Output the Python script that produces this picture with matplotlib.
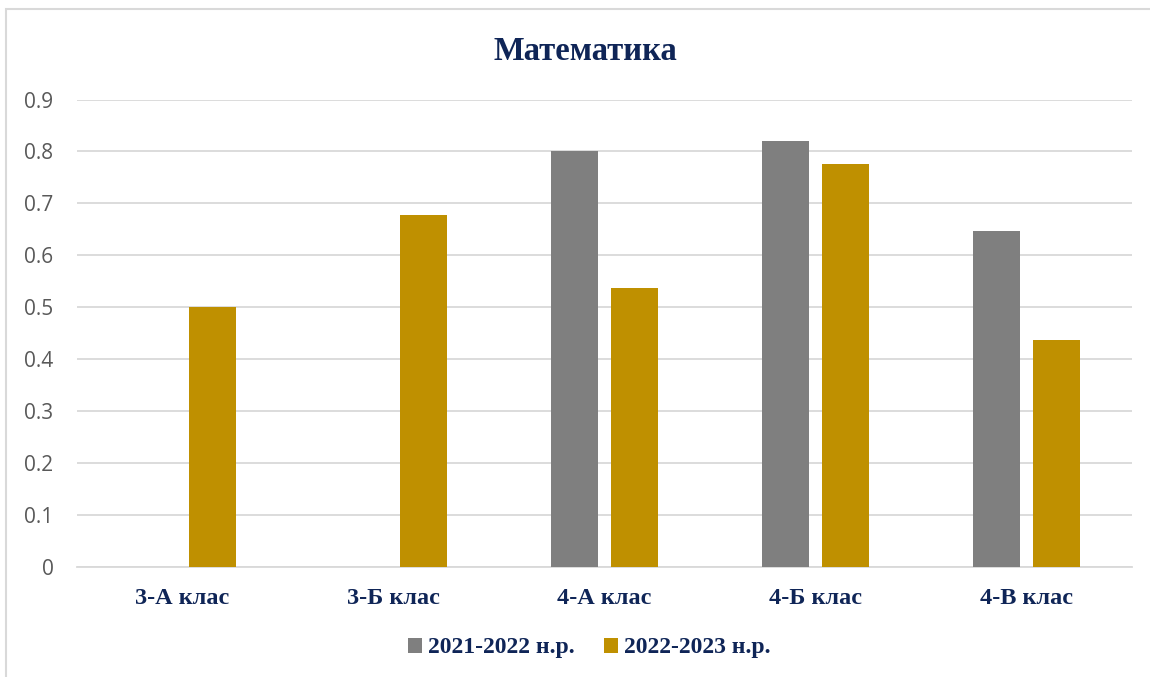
import numpy as np
import matplotlib
matplotlib.use("Agg")
import matplotlib.pyplot as plt
from matplotlib.patches import Rectangle

categories = ["3-А клас", "3-Б клас", "4-А клас", "4-Б клас", "4-В клас"]
series_names = ["2021-2022 н.р.", "2022-2023 н.р."]
values_2021 = [np.nan, np.nan, 0.80, 0.82, 0.647]
values_2022 = [0.50, 0.678, 0.538, 0.775, 0.437]
yticks = [0, 0.1, 0.2, 0.3, 0.4, 0.5, 0.6, 0.7, 0.8, 0.9]
ytick_labels = ["0", "0.1", "0.2", "0.3", "0.4", "0.5", "0.6", "0.7", "0.8", "0.9"]

navy = "#0F2557"
grid_c = "#D9D9D9"
c1 = "#7F7F7F"
c2 = "#BF9000"
serif = ["Liberation Serif", "DejaVu Serif"]

fig = plt.figure(figsize=(11.5, 6.77), dpi=100)
fig.patch.set_facecolor("white")
# outer chart frame (partly cropped)
fig.patches.append(Rectangle((6 / 1150, -0.05), 1.2, 1 - 9 / 677 + 0.05,
                             transform=fig.transFigure, fill=False,
                             edgecolor=grid_c, linewidth=1.5))

ax = fig.add_axes([77 / 1150, 1 - 567 / 677, (1132 - 77) / 1150, (567 - 99.5) / 677])
x = np.arange(len(categories))
w = 0.227
off = 0.142
ax.bar(x - off, values_2021, w, color=c1, label=series_names[0], zorder=3)
ax.bar(x + off, values_2022, w, color=c2, label=series_names[1], zorder=3)

ax.set_xlim(-0.5, len(categories) - 0.5)
ax.set_ylim(0, 0.9)
ax.set_yticks(yticks)
ax.set_yticklabels(ytick_labels, fontsize=15, color="#595959", family="Open Sans")
ax.yaxis.grid(True, color=grid_c, linewidth=1.3, zorder=0)
ax.set_axisbelow(True)
for s in ["top", "right", "left"]:
    ax.spines[s].set_visible(False)
ax.spines["bottom"].set_color(grid_c)
ax.spines["bottom"].set_linewidth(1.3)
ax.tick_params(axis="y", length=0, pad=17)
ax.tick_params(axis="x", length=0, pad=15)
ax.set_xticks(x)
ax.set_xticklabels(categories, fontsize=17.5, fontweight="bold", color=navy, family=serif)

fig.text(585 / 1150, 1 - 51 / 677, "Математика", ha="center", va="center",
         fontsize=23.5, fontweight="bold", color=navy, family=serif)

leg = ax.legend(loc="center", bbox_to_anchor=(589 / 1150, 1 - 648 / 677),
                bbox_transform=fig.transFigure, ncol=2, frameon=False,
                prop={"family": serif, "weight": "bold", "size": 17},
                handlelength=0.6, handleheight=0.6, handletextpad=0.25,
                columnspacing=1.25)
for t in leg.get_texts():
    t.set_color(navy)

fig.savefig("out.png", dpi=100)
